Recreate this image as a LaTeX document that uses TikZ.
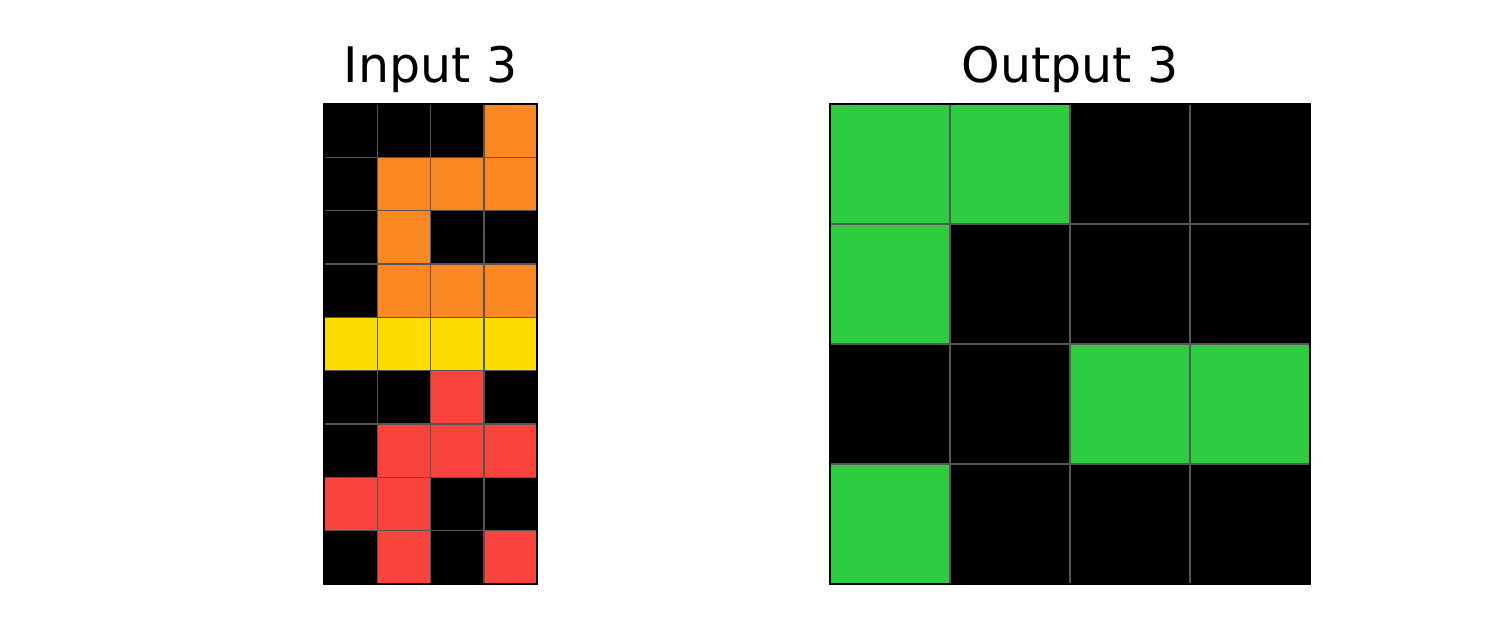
\documentclass[tikz,border=0pt]{standalone}
\usepackage{fontspec}
\setmainfont{DejaVu Sans}
\definecolor{cK}{RGB}{0,0,0}
\definecolor{cO}{RGB}{249,136,34}
\definecolor{cY}{RGB}{253,220,0}
\definecolor{cR}{RGB}{249,67,61}
\definecolor{cG}{RGB}{46,204,64}
\definecolor{gridgray}{RGB}{85,85,85}
\tikzset{
  cell/.style={draw=gridgray, line width=1.5pt},
  frame/.style={draw=black, line width=2.2pt},
  title/.style={font=\fontsize{49}{56}\selectfont, anchor=base, inner sep=0pt}
}
\begin{document}
\begin{tikzpicture}[x=1pt,y=-1pt]
\useasboundingbox[fill=white] (0,0) rectangle (1500,629);
% Input grid 4x9
\def\ix{324}\def\iy{104}\def\cw{53.25}\def\ch{53.333}
\foreach \row/\cols in {0/{K,K,K,O},1/{K,O,O,O},2/{K,O,K,K},3/{K,O,O,O},4/{Y,Y,Y,Y},5/{K,K,R,K},6/{K,R,R,R},7/{R,R,K,K},8/{K,R,K,R}}{
  \foreach \c [count=\j from 0] in \cols {
    \fill[c\c] (\ix+\j*\cw,\iy+\row*\ch) rectangle ++(\cw,\ch);
  }
}
\foreach \j in {1,2,3} \draw[cell] (\ix+\j*\cw,\iy) -- (\ix+\j*\cw,584);
\foreach \r in {1,...,8} \draw[cell] (\ix,\iy+\r*\ch) -- (537,\iy+\r*\ch);
\draw[frame] (324,104) rectangle (537,584);
% Output grid 4x4
\def\ox{830}\def\oy{104}\def\oc{120}
\foreach \row/\cols in {0/{G,G,K,K},1/{G,K,K,K},2/{K,K,G,G},3/{G,K,K,K}}{
  \foreach \c [count=\j from 0] in \cols {
    \fill[c\c] (\ox+\j*\oc,\oy+\row*\oc) rectangle ++(\oc,\oc);
  }
}
\foreach \j in {1,2,3} \draw[cell] (\ox+\j*\oc,\oy) -- (\ox+\j*\oc,584);
\foreach \r in {1,2,3} \draw[cell] (\ox,\oy+\r*\oc) -- (1310,\oy+\r*\oc);
\draw[frame] (830,104) rectangle (1310,584);
% Titles
\node[title] (tin) at (430.5,82) {Input 3};
\node[title] (tout) at (1070,82) {Output 3};
\end{tikzpicture}
\end{document}
